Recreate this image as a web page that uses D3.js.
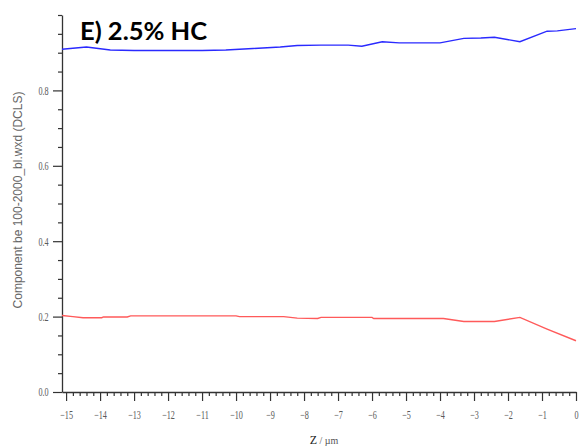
<!DOCTYPE html>
<html>
<head>
<meta charset="utf-8">
<script src="https://cdn.jsdelivr.net/npm/d3@7"></script>
<style>
  html, body { margin: 0; padding: 0; background: #fff; }
  svg { display: block; }
</style>
</head>
<body>
<svg id="chart" width="580" height="447"></svg>
<script>
// Depth profile (Z in µm) of the two DCLS components
const blueZ = [-15.12, -14.4, -13.7, -13, -12, -11, -10.3, -9.5, -8.7, -8.2, -7.5, -6.7, -6.3, -5.7, -5.2, -4.0, -3.3, -2.8, -2.4, -1.65, -0.85, -0.55, 0];
const blueV = [0.909, 0.915, 0.907, 0.906, 0.906, 0.906, 0.907, 0.911, 0.915, 0.919, 0.920, 0.920, 0.917, 0.929, 0.926, 0.926, 0.938, 0.939, 0.941, 0.929, 0.957, 0.958, 0.964];

const redZ = [-15.12, -14.8, -14.5, -13.95, -13.9, -13.2, -13.1, -10, -9.9, -8.6, -8.2, -7.6, -7.5, -6.0, -5.95, -3.9, -3.3, -2.4, -1.65, -0.85, 0];
const redV = [0.203, 0.200, 0.197, 0.197, 0.199, 0.199, 0.202, 0.202, 0.200, 0.200, 0.196, 0.195, 0.198, 0.198, 0.195, 0.195, 0.187, 0.187, 0.198, 0.167, 0.136];

const xTicks = [-15, -14, -13, -12, -11, -10, -9, -8, -7, -6, -5, -4, -3, -2, -1, 0];
const yTicks = [0.0, 0.2, 0.4, 0.6, 0.8];

const titleText = "E) 2.5% HC";
const yTitle = "Component be 100-2000_bl.wxd (DCLS)";

const svg = d3.select("#chart");
const plotLeft = 62, plotRight = 576, plotTop = 15, plotBottom = 392;

const x = d3.scaleLinear().domain([-15.12, 0]).range([plotLeft, plotRight]);
const y = d3.scaleLinear().domain([0, 1.0]).range([plotBottom, plotTop]);

const axisColor = "#333";
const labelColor = "#5a5a5a";
const tickFont = "'Liberation Serif', 'Times New Roman', serif";

// X axis: major ticks each 1 µm, minor each 0.2 µm
const xMinor = d3.range(-15, 0.001, 0.2).map(v => Math.round(v * 10) / 10)
  .filter(v => !xTicks.some(t => Math.abs(t - v) < 1e-6));

const gx = svg.append("g").attr("transform", `translate(0,${plotBottom})`);
gx.call(d3.axisBottom(x).tickValues(xTicks).tickSize(9).tickSizeOuter(0).tickPadding(9).tickFormat(d3.format("d")));
gx.append("g").call(d3.axisBottom(x).tickValues(xMinor).tickSize(4).tickSizeOuter(0).tickFormat(""))
  .select(".domain").remove();

// Y axis: major ticks each 0.2, minor each 0.05, ticks point left
const yMinor = d3.range(0.05, 1.001, 0.05).map(v => Math.round(v * 100) / 100)
  .filter(v => !yTicks.some(t => Math.abs(t - v) < 1e-6));

const gy = svg.append("g").attr("transform", `translate(${plotLeft},0)`);
gy.call(d3.axisLeft(y).tickValues(yTicks).tickSize(9).tickSizeOuter(0).tickPadding(2).tickFormat(d3.format(".1f")));
gy.append("g").call(d3.axisLeft(y).tickValues(yMinor).tickSize(4).tickSizeOuter(0).tickFormat(""))
  .select(".domain").remove();

svg.selectAll(".domain").attr("stroke", axisColor).attr("stroke-width", 1.3);
svg.selectAll(".tick line").attr("stroke", axisColor).attr("stroke-width", 1.2);
svg.selectAll(".tick text")
  .attr("fill", labelColor)
  .attr("font-family", tickFont)
  .attr("font-size", 12)
  .each(function () {
    const t = d3.select(this);
    const bb = this.getBBox();
    const cx = bb.x + bb.width / 2, cy = bb.y + bb.height / 2;
    t.attr("transform", `translate(${cx},${cy}) scale(0.68,1) translate(${-cx},${-cy})`);
  });

// Series lines
const line = d3.line().x(d => x(d[0])).y(d => y(d[1]));
svg.append("path")
  .datum(blueZ.map((z, i) => [z, blueV[i]]))
  .attr("d", line).attr("fill", "none").attr("stroke", "#2a2aff").attr("stroke-width", 1.4);
svg.append("path")
  .datum(redZ.map((z, i) => [z, redV[i]]))
  .attr("d", line).attr("fill", "none").attr("stroke", "#ff5a5a").attr("stroke-width", 1.4);

// Axis titles
svg.append("text")
  .attr("transform", `translate(22,200) rotate(-90)`)
  .attr("text-anchor", "middle")
  .attr("font-family", "'Liberation Sans', Arial, sans-serif")
  .attr("font-size", 12)
  .attr("fill", "#666")
  .text(yTitle);

const xt = svg.append("text")
  .attr("x", 324).attr("y", 444)
  .attr("text-anchor", "middle")
  .attr("font-family", tickFont)
  .attr("fill", "#555");
xt.append("tspan").attr("font-size", 12).attr("fill", "#222").text("Z");
xt.append("tspan").attr("font-size", 10).text(" / µm");

// Panel title
svg.append("text")
  .attr("x", 80).attr("y", 40)
  .attr("font-family", "Lato, 'Open Sans', sans-serif")
  .attr("font-weight", "bold")
  .attr("font-size", 25.5)
  .attr("fill", "#000")
  .text(titleText);
</script>
</body>
</html>
